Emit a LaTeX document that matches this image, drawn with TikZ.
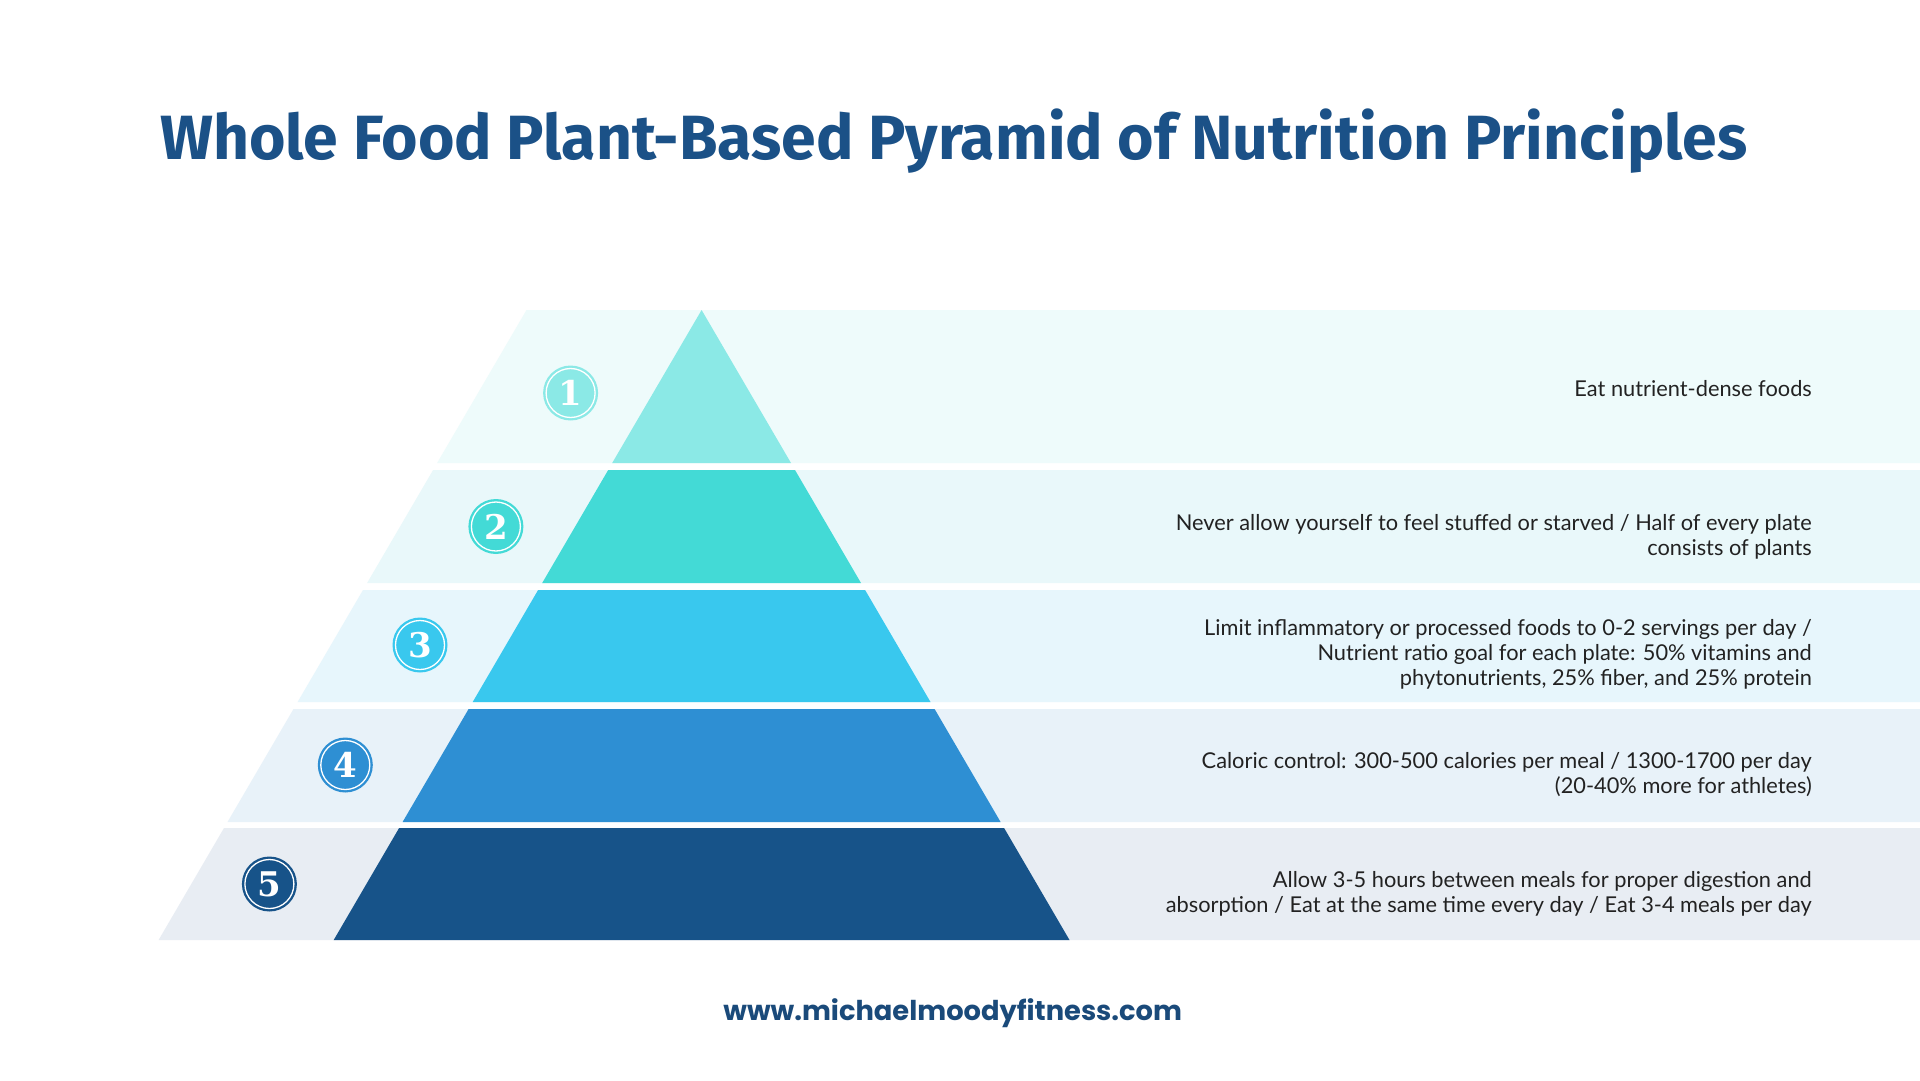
\documentclass[tikz,border=0pt]{standalone}
\usepackage{fontspec}
\setmainfont{Lato}
\newfontfamily\titlefont{Fira Sans}
\newfontfamily\footfont{Poppins}
\newfontfamily\numfont{DejaVu Serif}
\definecolor{titleblue}{HTML}{1B5187}
\definecolor{footblue}{HTML}{1A4A7A}
\definecolor{triA}{HTML}{8BE9E6}
\definecolor{triB}{HTML}{43DAD6}
\definecolor{triC}{HTML}{39C8EE}
\definecolor{triD}{HTML}{2E8FD3}
\definecolor{triE}{HTML}{175389}
\definecolor{bandA}{HTML}{EEFBFB}
\definecolor{bandB}{HTML}{E9F8FA}
\definecolor{bandC}{HTML}{E7F6FC}
\definecolor{bandD}{HTML}{E8F2F9}
\definecolor{bandE}{HTML}{E8EDF3}
\definecolor{bodytext}{HTML}{222222}
\begin{document}
\begin{tikzpicture}[x=1pt,y=-1pt,
  badge/.style={circle,minimum size=55pt,inner sep=0pt,text=white,font=\numfont\bfseries\fontsize{34}{34}\selectfont},
  ring/.style={draw=white,line width=1.3pt},
  desc/.style={anchor=east,align=right,text=bodytext,inner sep=0pt,font=\fontsize{21.8}{25}\selectfont}]
\useasboundingbox[fill=white] (0,0) rectangle (1920,1080);
% bands
\fill[bandA] (526.5,310) -- (1920,310) -- (1920,463) -- (437.1,463) -- cycle;
\fill[bandB] (433.1,470) -- (1920,470) -- (1920,583) -- (367.1,583) -- cycle;
\fill[bandC] (363.0,590) -- (1920,590) -- (1920,702) -- (297.6,702) -- cycle;
\fill[bandD] (293.5,709) -- (1920,709) -- (1920,822) -- (227.5,822) -- cycle;
\fill[bandE] (224.0,828) -- (1920,828) -- (1920,940) -- (158.6,940) -- cycle;
% pyramid
\fill[triA] (701.6,310) -- (791.0,463) -- (612.2,463) -- cycle;
\fill[triB] (608.2,470) -- (795.0,470) -- (861.0,583) -- (542.2,583) -- cycle;
\fill[triC] (538.1,590) -- (865.1,590) -- (930.5,702) -- (472.7,702) -- cycle;
\fill[triD] (468.6,709) -- (934.6,709) -- (1000.6,822) -- (402.6,822) -- cycle;
\fill[triE] (399.1,828) -- (1004.1,828) -- (1069.5,940) -- (333.7,940) -- cycle;
% badges
\node[badge,fill=triA] (b1) at (570.6,393) {1};
\node[badge,fill=triB] (b2) at (495.9,526.5) {2};
\node[badge,fill=triC] (b3) at (420.0,645) {3};
\node[badge,fill=triD] (b4) at (345.3,765) {4};
\node[badge,fill=triE] (b5) at (269.4,884) {5};
\foreach \b in {b1,b2,b3,b4,b5} \draw[ring] (\b.center) circle[radius=24.5];
% title
\node[anchor=base west,inner sep=0pt,text=titleblue,font=\titlefont\bfseries\fontsize{62.5}{62.5}\selectfont] (title) at (160,159) {Whole Food Plant-Based Pyramid of Nutrition Principles};
% descriptions
\node[desc] (t1) at (1812,389) {Eat nutrient-dense foods};
\node[desc] (t2) at (1812,536.5) {Never allow yourself to feel stuffed or starved / Half of every plate\\consists of plants};
\node[desc] (t3) at (1812,654.5) {Limit inflammatory or processed foods to 0-2 servings per day /\\Nutrient ratio goal for each plate: 50\% vitamins and\\phytonutrients, 25\% fiber, and 25\% protein};
\node[desc] (t4) at (1812,774.5) {Caloric control: 300-500 calories per meal / 1300-1700 per day\\(20-40\% more for athletes)};
\node[desc] (t5) at (1812,893.5) {Allow 3-5 hours between meals for proper digestion and\\absorption / Eat at the same time every day / Eat 3-4 meals per day};
% footer
\node[text=footblue,inner sep=0pt,font=\footfont\bfseries\fontsize{27.3}{27.3}\selectfont] (foot) at (952.7,1013.5) {www.michaelmoodyfitness.com};
\end{tikzpicture}
\end{document}
